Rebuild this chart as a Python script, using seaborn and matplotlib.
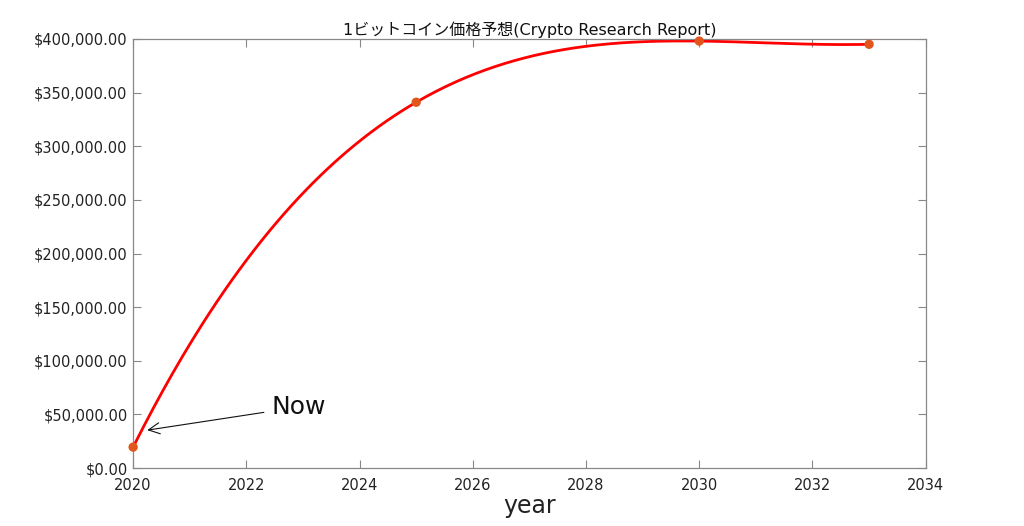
import numpy as np
import pandas as pd
import matplotlib
matplotlib.use("Agg")
import matplotlib.pyplot as plt
import seaborn as sns
from matplotlib.ticker import FuncFormatter

years = [2020, 2025, 2030, 2033]
prices = [19600, 341000, 398000, 395000]
title = "1ビットコイン価格予想(Crypto Research Report)"
xlabel = "year"
note = "Now"

sns.set_theme(style="white")
plt.rcParams['font.family'] = ['DejaVu Sans', 'Noto Sans CJK JP']

fig = plt.figure(figsize=(10.24, 5.26), dpi=100)
ax = fig.add_axes([0.130, 0.110, 0.774, 0.816])

# smooth curve through the data points (exact cubic fit)
coef = np.polyfit(np.array(years) - 2020, prices, 3)
xs = np.linspace(years[0], years[-1], 300)
curve = pd.DataFrame({"year": xs, "price": np.polyval(coef, xs - 2020)})
pts = pd.DataFrame({"year": years, "price": prices})

sns.lineplot(data=curve, x="year", y="price", ax=ax, color="#ff0000", linewidth=2.0)
sns.scatterplot(data=pts, x="year", y="price", ax=ax, color="#e0561c", s=45,
                edgecolor="none", zorder=5, clip_on=False)

ax.set_xlim(2020, 2034)
ax.set_ylim(0, 400000)
ax.set_xticks(range(2020, 2035, 2))
ax.set_yticks(range(0, 400001, 50000))
ax.yaxis.set_major_formatter(FuncFormatter(lambda v, p: f"${v:,.2f}"))
ax.tick_params(direction="in", length=6, width=0.8, color="#888888",
               labelsize=10.5, labelcolor="#222222", top=True, right=True,
               bottom=True, left=True)
ax.tick_params(axis="x", pad=7)
ax.tick_params(axis="y", pad=4)
for s in ax.spines.values():
    s.set_color("#888888")
    s.set_linewidth(0.9)
ax.set_xlabel(xlabel, fontsize=17, color="#222222", labelpad=1)
ax.set_ylabel("")
ax.set_title(title, fontsize=11.5, color="#111111", pad=3)

ax.annotate(note, xy=(2020.25, 35400), xytext=(2022.44, 56900),
            fontsize=18, color="#111111", va="center", ha="left",
            arrowprops=dict(arrowstyle="->", color="#111111", lw=0.8,
                            shrinkA=3, shrinkB=0, mutation_scale=20))

fig.savefig("out.png", dpi=100)
